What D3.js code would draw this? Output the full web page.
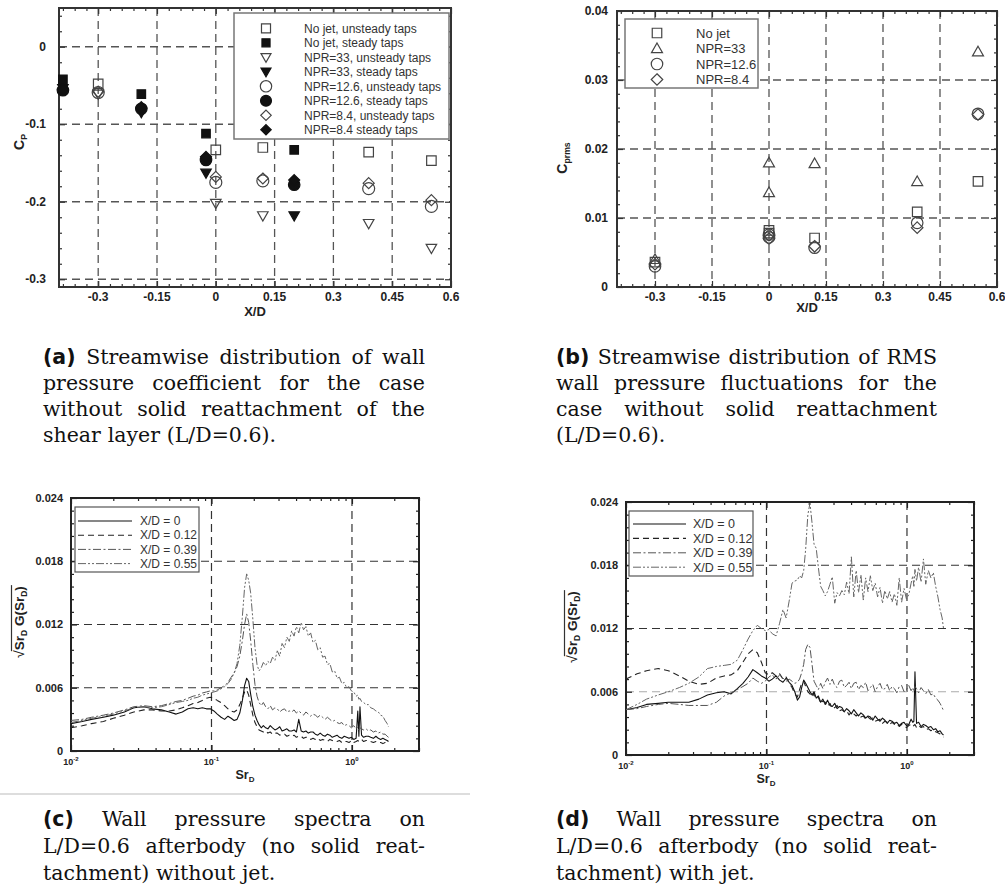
<!DOCTYPE html>
<html><head><meta charset="utf-8">
<script src="https://cdn.jsdelivr.net/npm/d3@7"></script>
<style>body{margin:0;background:#fff} svg{display:block}</style>
</head><body>
<svg id="fig" width="1005" height="891"></svg>
<script>
// ================= DATA =================
// Panel (a): wall pressure coefficient Cp vs X/D
const xdUnsteady = [-0.3, 0, 0.12, 0.39, 0.55];
const xdSteady   = [-0.39, -0.19, -0.025, 0.2];
const cpNoJetUnsteady  = [-0.048, -0.133, -0.130, -0.136, -0.147];
const cpNoJetSteady    = [-0.042, -0.061, -0.112, -0.133];
const cpNpr33Unsteady  = [-0.061, -0.202, -0.218, -0.228, -0.260];
const cpNpr33Steady    = [-0.054, -0.085, -0.163, -0.218];
const cpNpr126Unsteady = [-0.059, -0.175, -0.173, -0.183, -0.206];
const cpNpr126Steady   = [-0.056, -0.080, -0.146, -0.178];
const cpNpr84Unsteady  = [-0.058, -0.168, -0.170, -0.176, -0.198];
const cpNpr84Steady    = [-0.055, -0.078, -0.142, -0.172];
const cpLegend = ["No jet, unsteady taps","No jet, steady taps","NPR=33, unsteady taps","NPR=33, steady taps",
                  "NPR=12.6, unsteady taps","NPR=12.6, steady taps","NPR=8.4, unsteady taps","NPR=8.4 steady taps"];
const xdTickLabels = ["-0.3","-0.15","0","0.15","0.3","0.45","0.6"];
const xdTickValues = [-0.3,-0.15,0,0.15,0.3,0.45,0.6];
const cpTickValues = [0,-0.1,-0.2,-0.3];
const cpTickLabels = ["0","-0.1","-0.2","-0.3"];

// Panel (b): RMS wall pressure Cprms vs X/D
const xdRms = [-0.3, 0, 0, 0.12, 0.39, 0.55];
const rmsNoJet  = [0.0036, 0.0082, 0.0078, 0.0071, 0.0109, 0.0153];
const rmsNpr33  = [0.0040, 0.0180, 0.0137, 0.0179, 0.0153, 0.0341];
const rmsNpr126 = [0.0030, 0.0072, 0.0076, 0.0057, 0.0093, 0.0251];
const rmsNpr84  = [0.0033, 0.0075, 0.0070, 0.0059, 0.0086, 0.0250];
const rmsLegend = ["No jet","NPR=33","NPR=12.6","NPR=8.4"];
const rmsTickValues = [0,0.01,0.02,0.03,0.04];
const rmsTickLabels = ["0","0.01","0.02","0.03","0.04"];

// Panels (c),(d): spectra sqrt(Sr G) (values in units of 1e-3) vs Sr_D
const srGrid = [0.010,0.012,0.014,0.017,0.020,0.024,0.028,0.033,0.038,0.044,
  0.050,0.056,0.062,0.068,0.074,0.080,0.086,0.092,0.098,0.104,
  0.110,0.117,0.124,0.131,0.138,0.145,0.152,0.159,0.166,0.172,
  0.178,0.184,0.190,0.197,0.204,0.211,0.218,0.226,0.234,0.243,
  0.252,0.262,0.272,0.283,0.294,0.306,0.318,0.331,0.344,0.358,
  0.372,0.387,0.402,0.418,0.435,0.452,0.470,0.489,0.508,0.528,
  0.549,0.571,0.594,0.618,0.643,0.669,0.696,0.724,0.753,0.783,
  0.814,0.847,0.881,0.916,0.953,0.991,1.03,1.07,1.10,1.12,
  1.14,1.17,1.21,1.26,1.31,1.36,1.42,1.48,1.54,1.60,
  1.66,1.72,1.78,1.82];
const specC_xd0 = [2.6,2.8,3.0,3.2,3.4,3.7,4.1,4.2,4.0,3.9,
  3.7,3.5,3.7,4.0,4.1,4.0,4.1,4.0,4.0,3.8,
  3.5,3.2,3.0,3.3,3.1,2.9,3.0,3.6,4.8,6.2,
  6.9,6.6,5.4,4.2,3.4,2.9,2.5,2.2,2.4,2.2,
  2.1,2.4,2.2,2.0,2.1,2.3,1.9,2.0,2.1,1.9,
  1.9,2.0,1.8,3.0,1.9,1.8,1.9,1.7,1.8,1.8,
  1.6,1.5,1.7,1.5,1.4,1.6,1.5,1.3,1.4,1.5,
  1.3,1.2,1.4,1.3,1.2,1.3,1.1,1.2,3.8,1.4,
  4.2,1.5,1.3,1.4,1.4,1.3,1.2,1.4,1.2,1.1,
  1.2,1.1,1.0,0.9];
const specC_xd012 = [2.2,2.4,2.6,2.8,3.1,3.4,3.7,3.9,3.9,3.8,
  3.8,3.9,4.1,4.3,4.5,4.6,4.8,5.0,5.1,5.0,
  4.8,4.6,4.3,4.0,3.8,3.7,3.9,4.4,5.0,5.6,
  5.8,5.3,4.4,3.4,2.7,2.3,2.0,1.9,1.8,1.9,
  1.7,1.8,1.6,1.7,1.7,1.5,1.6,1.6,1.4,1.5,
  1.4,1.5,1.3,1.4,1.4,1.2,1.3,1.3,1.1,1.2,
  1.1,1.2,1.0,1.1,1.0,0.9,1.1,1.0,0.9,0.9,
  1.0,0.8,0.9,0.9,0.8,1.0,0.8,0.9,1.0,0.9,
  1.0,1.1,0.9,1.0,1.0,0.9,0.8,0.9,0.8,0.8,
  0.7,0.8,0.6,0.6];
const specC_xd039 = [2.9,3.0,3.2,3.4,3.6,3.9,4.2,4.3,4.2,4.3,
  4.5,4.7,4.8,5.0,5.2,5.3,5.5,5.6,5.7,5.7,
  5.8,6.0,6.2,6.5,7.0,7.4,8.0,9.0,10.5,12.0,
  13.0,12.2,10.5,8.2,6.3,5.2,4.6,4.3,4.6,4.2,
  4.0,4.3,3.9,4.1,4.0,3.7,3.9,4.0,3.7,3.8,
  3.7,3.9,3.6,3.8,3.6,3.4,3.7,3.5,3.3,3.5,
  3.4,3.2,3.4,3.2,3.0,3.2,3.0,2.8,2.9,2.7,
  2.6,2.7,2.4,2.5,2.4,2.2,2.4,2.1,2.3,2.0,
  2.2,2.1,2.0,2.1,1.9,2.0,1.8,1.9,1.7,1.8,
  1.6,1.6,1.4,1.3];
const specC_xd055 = [2.7,2.9,3.1,3.3,3.5,3.8,4.1,4.2,4.1,4.2,
  4.4,4.6,4.7,4.8,5.0,5.1,5.3,5.4,5.5,5.6,
  5.7,5.9,6.1,6.4,6.8,7.4,8.3,10.0,12.8,15.5,
  16.8,16.2,15.0,12.5,9.8,8.2,7.6,7.9,8.4,8.1,
  8.5,8.3,8.9,8.6,9.5,9.0,10.2,9.8,10.8,10.4,
  11.4,10.9,11.8,11.2,12.2,11.5,11.8,10.9,11.2,10.3,
  10.5,9.6,9.8,8.9,9.0,8.2,8.3,7.5,7.6,6.9,
  7.0,6.4,6.5,6.0,6.1,5.7,5.6,5.2,5.3,4.9,
  5.0,4.7,4.6,4.4,4.4,4.1,4.0,3.8,3.7,3.4,
  3.3,2.9,2.6,2.3];
const specD_xd0 = [4.3,4.5,4.8,4.9,5.0,5.0,5.0,5.3,5.7,5.9,
  6.0,5.8,6.3,6.8,7.4,8.1,7.8,7.5,7.3,7.0,
  7.2,7.5,7.1,6.9,7.3,6.9,6.6,6.0,5.2,5.5,
  6.4,7.1,6.8,6.4,6.0,5.7,6.0,5.4,5.6,5.0,
  5.3,4.8,5.2,4.7,4.6,4.9,4.4,4.6,4.5,4.1,
  4.4,4.2,3.9,4.3,4.0,3.7,4.0,3.8,3.5,3.7,
  3.6,3.3,3.7,3.4,3.2,3.5,3.3,3.0,3.3,3.2,
  3.0,3.1,2.8,3.0,3.1,2.8,2.9,3.4,3.1,3.2,
  7.9,3.0,3.1,2.7,2.9,2.8,2.6,2.7,2.4,2.5,
  2.2,2.3,2.0,1.9];
const specD_xd012 = [7.2,7.7,8.0,8.2,8.0,7.5,7.0,6.7,6.8,7.3,
  7.5,7.6,8.0,8.8,9.6,10.0,9.7,8.8,7.8,7.6,
  7.8,7.5,7.7,7.2,7.4,6.8,6.4,5.8,5.5,6.2,
  6.8,7.0,6.5,6.0,5.8,5.5,5.8,5.3,5.5,4.9,
  5.1,5.0,4.6,4.9,4.4,4.5,4.7,4.2,4.3,4.1,
  4.2,3.8,4.1,3.9,3.7,3.9,3.6,3.7,3.4,3.6,
  3.4,3.5,3.2,3.3,3.4,3.0,3.2,3.1,2.9,3.1,
  2.9,3.0,2.7,2.9,2.8,2.6,2.8,2.9,2.7,2.8,
  2.9,2.6,2.8,2.6,2.7,2.4,2.5,2.3,2.4,2.2,
  2.1,2.0,1.8,1.7];
const specD_xd039 = [4.3,4.4,4.6,4.8,4.9,4.8,4.7,4.7,4.7,5.0,
  5.6,5.9,6.2,6.5,6.8,7.3,7.0,6.8,7.0,7.4,
  7.6,7.2,7.6,7.3,7.0,7.2,7.0,6.8,6.9,7.2,
  7.8,8.6,10.0,10.5,10.2,8.6,7.0,6.6,6.2,6.8,
  6.3,6.9,7.3,6.7,7.2,6.6,6.4,7.0,7.1,6.4,
  6.6,6.9,6.3,6.8,6.9,6.2,6.6,6.4,6.9,6.1,
  6.4,6.7,6.0,6.5,6.8,6.2,6.3,6.7,6.1,6.5,
  6.3,5.9,6.5,6.6,6.0,6.2,6.6,6.1,6.4,6.0,
  6.5,6.3,5.9,6.4,6.1,5.8,6.2,5.7,5.8,5.4,
  5.2,4.9,4.5,4.2];
const specD_xd055 = [4.3,4.8,5.3,5.7,6.0,6.4,6.8,7.4,8.2,8.4,
  8.5,8.6,9.0,10.0,11.0,11.8,12.3,12.0,11.8,11.9,
  11.5,11.3,12.5,13.8,13.0,14.6,16.3,16.5,16.6,17.0,
  16.8,17.5,19.5,22.8,23.9,22.0,20.0,19.6,17.8,16.0,
  15.6,15.1,15.5,16.2,16.9,14.4,15.4,15.1,15.6,15.2,
  16.4,15.3,18.8,15.0,17.5,15.4,17.1,14.7,16.8,15.5,
  17.0,15.6,16.3,15.0,15.9,14.4,15.6,14.8,15.5,14.5,
  15.3,14.2,16.8,14.5,15.8,14.8,15.2,16.3,17.0,16.0,
  17.6,16.5,17.8,16.4,18.6,16.2,17.5,16.8,17.3,16.0,
  15.0,13.8,13.0,12.0];
const specLegend = ["X/D = 0","X/D = 0.12","X/D = 0.39","X/D = 0.55"];
const specYTickValues = [0,0.006,0.012,0.018,0.024];
const specYTickLabels = ["0","0.006","0.012","0.018","0.024"];
const srTickValues = [0.01,0.1,1];
const srTickExponents = ["-2","-1","0"];

const captionA = ["(a) Streamwise distribution of wall","pressure coefficient for the case","without solid reattachment of the","shear layer (L/D=0.6)."];
const captionB = ["(b) Streamwise distribution of RMS","wall pressure fluctuations for the","case without solid reattachment","(L/D=0.6)."];
const captionC = ["(c) Wall pressure spectra on","L/D=0.6 afterbody (no solid reat-","tachment) without jet."];
const captionD = ["(d) Wall pressure spectra on","L/D=0.6 afterbody (no solid reat-","tachment) with jet."];

// ================= DRAWING =================
const svg = d3.select('#fig');
const SANS = '"Liberation Sans", Arial, Helvetica, sans-serif';
const SERIF = '"DejaVu Serif", serif';
const SANSB = '"DejaVu Sans", sans-serif';

function frame(g, x, y, cfg){
  const [x0,x1] = x.range(), [yb,yt] = y.range();
  g.append('g').selectAll('line').data(cfg.gridX).join('line')
    .attr('x1',d=>x(d)).attr('x2',d=>x(d)).attr('y1',yt).attr('y2',yb)
    .attr('stroke',cfg.gridColor).attr('stroke-width',cfg.gridWidth).attr('stroke-dasharray',cfg.gridDash);
  g.append('g').selectAll('line').data(cfg.gridY).join('line')
    .attr('x1',x0).attr('x2',x1).attr('y1',d=>y(d)).attr('y2',d=>y(d))
    .attr('stroke',d=>(cfg.gridYColor && cfg.gridYColor(d)) || cfg.gridColor)
    .attr('stroke-width',cfg.gridWidth).attr('stroke-dasharray',cfg.gridDash);
  const tick = (fn, sc, vals, size, tr) => g.append('g').attr('transform',tr)
    .call(fn(sc).tickValues(vals).tickSize(size).tickFormat(''))
    .call(s=>{s.select('.domain').remove(); s.selectAll('text').remove();
      s.selectAll('line').attr('stroke',cfg.frameColor).attr('stroke-width',1.2);});
  [[cfg.xMajor,6],[cfg.xMinor,3]].forEach(([v,sz])=>{
    tick(d3.axisBottom,x,v,-sz,`translate(0,${yb})`);
    tick(d3.axisTop,x,v,-sz,`translate(0,${yt})`);
  });
  [[cfg.yMajor,6],[cfg.yMinor,3]].forEach(([v,sz])=>{
    tick(d3.axisLeft,y,v,-sz,`translate(${x0},0)`);
    tick(d3.axisRight,y,v,-sz,`translate(${x1},0)`);
  });
  g.append('rect').attr('x',x0).attr('y',yt).attr('width',x1-x0).attr('height',yb-yt)
    .attr('fill','none').attr('stroke',cfg.frameColor).attr('stroke-width',cfg.frameWidth);
}

function sym(type, s){
  const h = s/2;
  switch(type){
    case 'square': return `M${-h},${-h}h${s}v${s}h${-s}Z`;
    case 'circle': return `M${h},0A${h},${h} 0 1,1 ${-h},0A${h},${h} 0 1,1 ${h},0Z`;
    case 'tdown': return `M${-h},${-h*0.75}L${h},${-h*0.75}L0,${h}Z`;
    case 'tup': return `M0,${-h}L${h},${h*0.75}L${-h},${h*0.75}Z`;
    case 'diamond': return `M0,${-h}L${h},0L0,${h}L${-h},0Z`;
  }
}

function textRot(g, cx, cy, parts, size){
  const t = g.append('text').attr('transform',`translate(${cx},${cy}) rotate(-90)`)
    .attr('text-anchor','middle').attr('font-family',SANS).attr('font-weight','bold')
    .attr('font-size',size).attr('fill','#222');
  parts.forEach(p=>{ t.append('tspan').attr('font-size',p.sub?size*0.62:size).attr('dy',p.dy||0).text(p.t); });
  return t;
}

// ---------- Panel (a) ----------
{
  const g = svg.append('g');
  const x = d3.scaleLinear().domain([-0.4,0.6]).range([59,451]);
  const y = d3.scaleLinear().domain([-0.31,0.05]).range([287,8]);
  frame(g,x,y,{gridX:[-0.3,-0.15,0,0.15,0.3,0.45], gridY:[0,-0.1,-0.2,-0.3],
    gridColor:'#555', gridWidth:1.3, gridDash:'8,5',
    xMajor:xdTickValues, xMinor:d3.range(-0.39,0.6,0.03).filter(v=>Math.abs(((v+0.3)/0.15)-Math.round((v+0.3)/0.15))>0.01),
    yMajor:cpTickValues, yMinor:d3.range(-0.30,0.05,0.02).filter(v=>Math.abs(v*10-Math.round(v*10))>0.01),
    frameColor:'#333', frameWidth:2});
  g.append('g').selectAll('text').data(xdTickValues).join('text')
    .attr('x',d=>x(d)).attr('y',301).attr('text-anchor','middle').attr('font-family',SANS)
    .attr('font-weight','bold').attr('font-size',12).attr('fill','#222').text((d,i)=>xdTickLabels[i]);
  g.append('g').selectAll('text').data(cpTickValues).join('text')
    .attr('x',46).attr('y',d=>y(d)).attr('dy','0.35em').attr('text-anchor','end').attr('font-family',SANS)
    .attr('font-weight','bold').attr('font-size',12).attr('fill','#222').text((d,i)=>cpTickLabels[i]);
  g.append('text').attr('x',x(0.1)).attr('y',316).attr('text-anchor','middle').attr('font-family',SANS)
    .attr('font-weight','bold').attr('font-size',13).attr('fill','#222').text('X/D');
  textRot(g,24,142,[{t:'C'},{t:'P',sub:true,dy:3}],14);

  const series = [
    {xs:xdUnsteady, ys:cpNoJetUnsteady, type:'square', fill:false, s:9.5},
    {xs:xdSteady, ys:cpNoJetSteady, type:'square', fill:true, s:8.5},
    {xs:xdUnsteady, ys:cpNpr33Unsteady, type:'tdown', fill:false, s:10.5},
    {xs:xdSteady, ys:cpNpr33Steady, type:'tdown', fill:true, s:10.5},
    {xs:xdUnsteady, ys:cpNpr126Unsteady, type:'circle', fill:false, s:12},
    {xs:xdSteady, ys:cpNpr126Steady, type:'circle', fill:true, s:11.5},
    {xs:xdUnsteady, ys:cpNpr84Unsteady, type:'diamond', fill:false, s:11},
    {xs:xdSteady, ys:cpNpr84Steady, type:'diamond', fill:true, s:11}
  ];
  series.forEach(se=>{
    g.append('g').selectAll('path').data(se.xs.map((v,i)=>[v,se.ys[i]])).join('path')
      .attr('transform',d=>`translate(${x(d[0])},${y(d[1])})`).attr('d',sym(se.type,se.s))
      .attr('fill',se.fill?'#111':'none').attr('stroke',se.fill?'#111':'#444').attr('stroke-width',1.2);
  });
  const lg = g.append('g');
  lg.append('rect').attr('x',234).attr('y',13).attr('width',215).attr('height',126)
    .attr('fill','#fff').attr('stroke','#777').attr('stroke-width',1.5);
  series.forEach((se,i)=>{
    const yy = 28.3 + i*14.5;
    lg.append('path').attr('transform',`translate(266,${yy})`).attr('d',sym(se.type,se.s*0.95))
      .attr('fill',se.fill?'#111':'none').attr('stroke',se.fill?'#111':'#444').attr('stroke-width',1.2);
    lg.append('text').attr('x',304).attr('y',yy).attr('dy','0.35em').attr('font-family',SANS)
      .attr('font-size',12).attr('fill','#333').text(cpLegend[i]);
  });
}

// ---------- Panel (b) ----------
{
  const g = svg.append('g');
  const x = d3.scaleLinear().domain([-0.4,0.6]).range([617,997]);
  const y = d3.scaleLinear().domain([0,0.04]).range([287,11]);
  frame(g,x,y,{gridX:[-0.3,-0.15,0,0.15,0.3,0.45], gridY:[0.01,0.02,0.03],
    gridColor:'#555', gridWidth:1.3, gridDash:'8,5',
    xMajor:xdTickValues, xMinor:d3.range(-0.39,0.6,0.03).filter(v=>Math.abs(((v+0.3)/0.15)-Math.round((v+0.3)/0.15))>0.01),
    yMajor:rmsTickValues, yMinor:d3.range(0.002,0.04,0.002).filter(v=>Math.abs(v*100-Math.round(v*100))>0.01),
    frameColor:'#333', frameWidth:2});
  g.append('g').selectAll('text').data(xdTickValues).join('text')
    .attr('x',d=>x(d)).attr('y',301).attr('text-anchor','middle').attr('font-family',SANS)
    .attr('font-weight','bold').attr('font-size',12).attr('fill','#222').text((d,i)=>xdTickLabels[i]);
  g.append('g').selectAll('text').data(rmsTickValues).join('text')
    .attr('x',608).attr('y',d=>y(d)).attr('dy','0.35em').attr('text-anchor','end').attr('font-family',SANS)
    .attr('font-weight','bold').attr('font-size',12).attr('fill','#222').text((d,i)=>rmsTickLabels[i]);
  g.append('text').attr('x',x(0.1)).attr('y',312).attr('text-anchor','middle').attr('font-family',SANS)
    .attr('font-weight','bold').attr('font-size',13).attr('fill','#222').text('X/D');
  textRot(g,567,158,[{t:'C'},{t:'prms',sub:true,dy:3}],14);
  const series = [
    {ys:rmsNoJet, type:'square', s:9.5},
    {ys:rmsNpr33, type:'tup', s:11},
    {ys:rmsNpr126, type:'circle', s:11.5},
    {ys:rmsNpr84, type:'diamond', s:11.5}
  ];
  series.forEach(se=>{
    g.append('g').selectAll('path').data(xdRms.map((v,i)=>[v,se.ys[i]])).join('path')
      .attr('transform',d=>`translate(${x(d[0])},${y(d[1])})`).attr('d',sym(se.type,se.s))
      .attr('fill','none').attr('stroke','#444').attr('stroke-width',1.2);
  });
  const lg = g.append('g');
  lg.append('rect').attr('x',625).attr('y',19).attr('width',133).attr('height',69)
    .attr('fill','#fff').attr('stroke','#777').attr('stroke-width',1.5);
  series.forEach((se,i)=>{
    const yy = 33 + i*15.5;
    lg.append('path').attr('transform',`translate(657,${yy})`).attr('d',sym(se.type,se.s))
      .attr('fill','none').attr('stroke','#444').attr('stroke-width',1.2);
    lg.append('text').attr('x',696).attr('y',yy).attr('dy','0.35em').attr('font-family',SANS)
      .attr('font-size',13).attr('fill','#333').text(rmsLegend[i]);
  });
}

// ---------- Spectra (c),(d) ----------
const lineStyles = [
  {dash:null, color:'#111', w:1.1},
  {dash:'6,4', color:'#222', w:1.1},
  {dash:'8,2.5,2,2.5', color:'#555', w:1},
  {dash:'8,2,2,2,2,2', color:'#666', w:1}
];
function spectrum(opts){
  const g = svg.append('g');
  const x = d3.scaleLog().domain([0.01,3]).range(opts.xr);
  const y = d3.scaleLinear().domain([0,0.024]).range(opts.yr);
  const minorX = [];
  [0.01,0.1,1].forEach(dec=>{ for(let k=2;k<=9;k++){ if(k*dec<=3) minorX.push(k*dec);} });
  frame(g,x,y,{gridX:[0.1,1], gridY:[0.006,0.012,0.018],
    gridYColor: opts.gridYColor,
    gridColor:'#333', gridWidth:1.2, gridDash:'8,5',
    xMajor:srTickValues, xMinor:minorX,
    yMajor:specYTickValues, yMinor:d3.range(0.0012,0.024,0.0012).filter(v=>Math.abs(v/0.006-Math.round(v/0.006))>0.01),
    frameColor:'#222', frameWidth:2});
  const line = d3.line().x((d,i)=>x(srGrid[i])).y(d=>y(d*1e-3));
  opts.series.forEach((s,i)=>{
    const st = lineStyles[i];
    g.append('path').attr('d',line(s)).attr('fill','none').attr('stroke',st.color)
      .attr('stroke-width',st.w).attr('stroke-dasharray',st.dash).attr('stroke-linejoin','round');
  });
  g.append('g').selectAll('text').data(specYTickValues).join('text')
    .attr('x',opts.xr[0]-8).attr('y',d=>y(d)).attr('dy','0.35em').attr('text-anchor','end')
    .attr('font-family',SANS).attr('font-weight','bold').attr('font-size',11).attr('fill','#222')
    .text((d,i)=>specYTickLabels[i]);
  const xl = g.append('g').selectAll('text').data(srTickValues).join('text')
    .attr('x',d=>x(d)).attr('y',opts.yr[0]+14).attr('text-anchor','middle')
    .attr('font-family',SANS).attr('font-weight','bold').attr('font-size',9).attr('fill','#222');
  xl.append('tspan').text('10');
  xl.append('tspan').attr('font-size',6).attr('dy',-4).text((d,i)=>srTickExponents[i]);
  const xlab = g.append('text').attr('x',opts.xlabX).attr('y',opts.yr[0]+28).attr('text-anchor','middle')
    .attr('font-family',SANS).attr('font-weight','bold').attr('font-size',12.5).attr('fill','#222');
  xlab.append('tspan').text('Sr');
  xlab.append('tspan').attr('font-size',8).attr('dy',3).text('D');
  const yl = g.append('g').attr('transform',`translate(${opts.ylab[0]},${opts.ylab[1]}) rotate(-90)`);
  const root = yl.append('text').attr('font-family',SANS).attr('font-weight','normal').attr('font-size',14).attr('fill','#222').text('√');
  const body = yl.append('text').attr('font-family',SANS).attr('font-weight','bold').attr('font-size',13.5).attr('fill','#222');
  [['Sr',0,13.5],['D',3,8.5],[' G(Sr',-3,13.5],['D',3,8.5],[')',-3,13.5]].forEach(([t,dy,fs])=>
    body.append('tspan').attr('dy',dy).attr('font-size',fs).text(t));
  const rw = root.node().getComputedTextLength(), bw = body.node().getComputedTextLength();
  const tot = rw + bw;
  root.attr('x',-tot/2); body.attr('x',-tot/2+rw);
  yl.append('line').attr('x1',-tot/2+rw-1).attr('x2',tot/2+1).attr('y1',-12.5).attr('y2',-12.5)
    .attr('stroke','#333').attr('stroke-width',1.2);
  const L = opts.legend;
  const lg = g.append('g');
  lg.append('rect').attr('x',L.x).attr('y',L.y).attr('width',L.w).attr('height',L.h)
    .attr('fill','#fff').attr('stroke','#555').attr('stroke-width',1.2);
  specLegend.forEach((t,i)=>{
    const st = lineStyles[i];
    const yy = L.row0 + i*L.dy;
    lg.append('line').attr('x1',L.lx0).attr('x2',L.lx1).attr('y1',yy).attr('y2',yy)
      .attr('stroke',st.color).attr('stroke-width',st.w).attr('stroke-dasharray',st.dash);
    lg.append('text').attr('x',L.tx).attr('y',yy).attr('dy','0.35em').attr('font-family',SANS)
      .attr('font-size',L.fs).attr('fill','#333').text(t);
  });
}
spectrum({xr:[71,419], yr:[751,498], series:[specC_xd0,specC_xd012,specC_xd039,specC_xd055],
  xlabX:245, ylab:[24,622],
  legend:{x:75,y:507,w:124,h:65,row0:521,dy:14.2,lx0:78,lx1:132,tx:140,fs:12}});
spectrum({xr:[626,974], yr:[755,502], series:[specD_xd0,specD_xd012,specD_xd039,specD_xd055],
  xlabX:766, ylab:[577,627], gridYColor:d=>d===0.006?'#aaa':null,
  legend:{x:629,y:511,w:124,h:65,row0:524,dy:14.4,lx0:633,lx1:686,tx:693,fs:12.5}});

svg.append('line').attr('x1',0).attr('x2',470).attr('y1',794).attr('y2',794).attr('stroke','#bbb').attr('stroke-width',1);

// ---------- Captions ----------
const CAP_FS = 20.5;
function caption(x0, width, y0, lh, lines){
  const g = svg.append('g').attr('fill','#111');
  lines.forEach((line,i)=>{
    const words = line.split(' ');
    const els = words.map((w,j)=>{
      const bold = i===0 && j===0;
      return g.append('text').attr('y',y0+i*lh).text(w)
        .attr('font-family',bold?SANSB:SERIF).attr('font-weight',bold?'bold':'normal').attr('font-size',CAP_FS);
    });
    const ws = els.map(e=>e.node().getComputedTextLength());
    const justify = i < lines.length-1;
    const gap = justify ? (width - d3.sum(ws))/(words.length-1) : CAP_FS*0.33;
    let xx = x0;
    els.forEach((e,j)=>{ e.attr('x',xx); xx += ws[j] + gap; });
  });
}
caption(43, 382, 364, 26, captionA);
caption(556, 381, 364, 26, captionB);
caption(43, 382, 826, 27, captionC);
caption(556, 381, 826, 27, captionD);
</script>
</body></html>
